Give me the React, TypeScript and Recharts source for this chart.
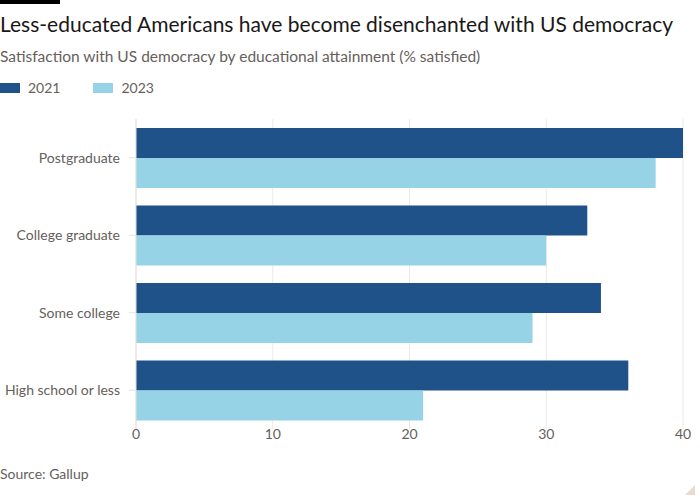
import React from 'react';
import { BarChart, Bar, XAxis, YAxis, CartesianGrid } from 'recharts';

const categories = ['Postgraduate', 'College graduate', 'Some college', 'High school or less'];
const values2021 = [40, 33, 34, 36];
const values2023 = [38, 30, 29, 21];
const xTicks = [0, 10, 20, 30, 40];

const DARK = '#1f5289';
const LIGHT = '#96d3e6';
const GREY = '#66605c';
const FONT = 'Lato, sans-serif';

const data = categories.map((name, i) => ({
  name,
  y2021: values2021[i],
  y2023: values2023[i],
}));

function LegendItem({ color, label }: { color: string; label: string }) {
  return (
    <div style={{ display: 'flex', alignItems: 'center', marginRight: 33 }}>
      <div style={{ width: 20, height: 10, background: color, marginRight: 8 }} />
      <span>{label}</span>
    </div>
  );
}

export default function App() {
  return (
    <div
      style={{
        position: 'absolute',
        left: 0,
        top: 0,
        width: 700,
        height: 500,
        background: '#fff',
        fontFamily: FONT,
        overflow: 'hidden',
      }}
    >
      <div style={{ position: 'absolute', left: 0, top: 0, width: 60, height: 4, background: '#000' }} />
      <div style={{ position: 'absolute', left: 0, top: 11, fontSize: 21, color: '#1a1817', whiteSpace: 'nowrap' }}>
        Less-educated Americans have become disenchanted with US democracy
      </div>
      <div style={{ position: 'absolute', left: 0, top: 47, fontSize: 15.5, color: GREY, whiteSpace: 'nowrap' }}>
        Satisfaction with US democracy by educational attainment (% satisfied)
      </div>
      <div
        style={{
          position: 'absolute',
          left: 0,
          top: 79,
          fontSize: 14,
          color: GREY,
          display: 'flex',
        }}
      >
        <LegendItem color={DARK} label="2021" />
        <LegendItem color={LIGHT} label="2023" />
      </div>

      <div style={{ position: 'absolute', left: 0, top: 100 }}>
        <BarChart
          width={700}
          height={350}
          data={data}
          layout="vertical"
          margin={{ top: 19, right: 17, bottom: 1, left: 0 }}
          barCategoryGap={9}
          barGap={0}
        >
          <CartesianGrid horizontal={false} stroke="#f0e6e6" />
          <XAxis
            type="number"
            domain={[0, 40]}
            ticks={xTicks}
            tickLine={false}
            axisLine={false}
            tickSize={0}
            tickMargin={0}
            height={20}
            tick={{ fill: GREY, fontSize: 14, fontFamily: FONT }}
          />
          <YAxis
            type="category"
            dataKey="name"
            width={136}
            tickSize={7}
            tickMargin={9}
            axisLine={{ stroke: '#e6e2de' }}
            tickLine={{ stroke: '#e6e2de' }}
            tick={{ fill: GREY, fontSize: 14, fontFamily: FONT }}
          />
          <Bar dataKey="y2021" name="2021" fill={DARK} isAnimationActive={false} />
          <Bar dataKey="y2023" name="2023" fill={LIGHT} isAnimationActive={false} />
        </BarChart>
      </div>

      <div style={{ position: 'absolute', left: 0, top: 465, fontSize: 14, color: GREY }}>Source: Gallup</div>
      <div
        style={{
          position: 'absolute',
          right: 5,
          bottom: 5,
          width: 0,
          height: 0,
          borderLeft: '10px solid transparent',
          borderBottom: '10px solid #e9dccf',
        }}
      />
    </div>
  );
}
